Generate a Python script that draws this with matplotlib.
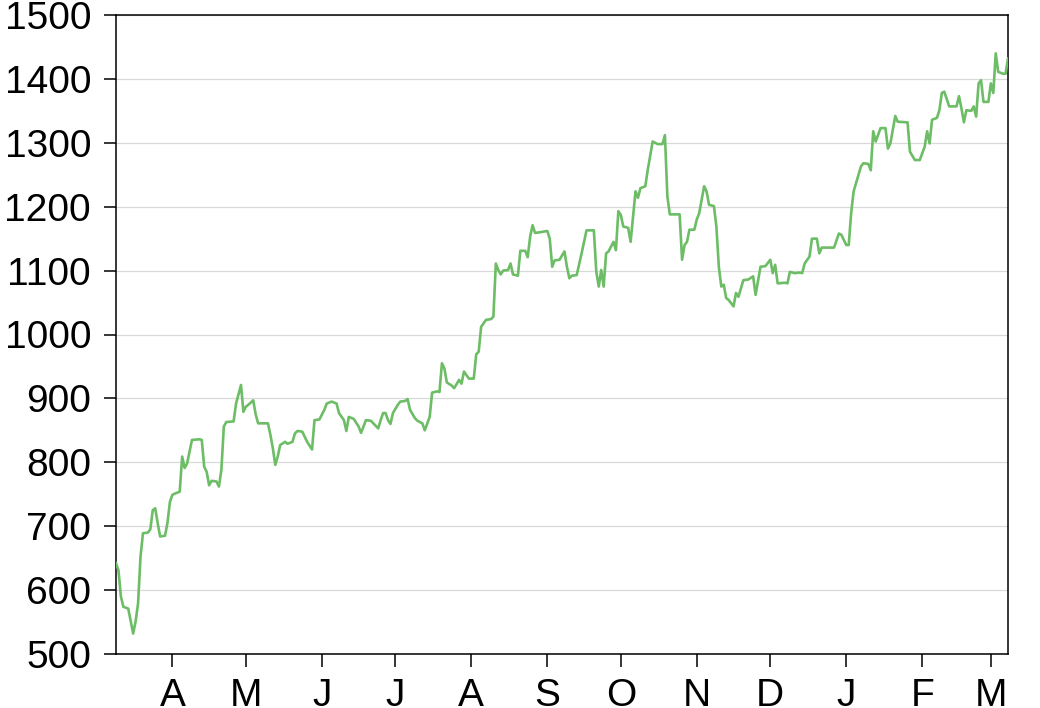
import matplotlib
matplotlib.use("Agg")
import matplotlib.pyplot as plt
import pandas as pd

dates = [
    "2020-03-09", "2020-03-10", "2020-03-11", "2020-03-12", "2020-03-14", "2020-03-16", "2020-03-17",
    "2020-03-18", "2020-03-19", "2020-03-20", "2020-03-22", "2020-03-23", "2020-03-24", "2020-03-25",
    "2020-03-26", "2020-03-27", "2020-03-29", "2020-03-30", "2020-03-31", "2020-04-01", "2020-04-02",
    "2020-04-04", "2020-04-05", "2020-04-06", "2020-04-07", "2020-04-09", "2020-04-12", "2020-04-13",
    "2020-04-14", "2020-04-15", "2020-04-16", "2020-04-17", "2020-04-19", "2020-04-20", "2020-04-21",
    "2020-04-22", "2020-04-23", "2020-04-26", "2020-04-27", "2020-04-29", "2020-04-30", "2020-05-01",
    "2020-05-02", "2020-05-04", "2020-05-05", "2020-05-06", "2020-05-10", "2020-05-11", "2020-05-12",
    "2020-05-13", "2020-05-14", "2020-05-15", "2020-05-17", "2020-05-18", "2020-05-20", "2020-05-21",
    "2020-05-22", "2020-05-24", "2020-05-26", "2020-05-28", "2020-05-29", "2020-05-31", "2020-06-02",
    "2020-06-03", "2020-06-05", "2020-06-07", "2020-06-08", "2020-06-10", "2020-06-11", "2020-06-12",
    "2020-06-14", "2020-06-16", "2020-06-17", "2020-06-19", "2020-06-21", "2020-06-22", "2020-06-24",
    "2020-06-25", "2020-06-26", "2020-06-27", "2020-06-28", "2020-06-29", "2020-06-30", "2020-07-02",
    "2020-07-03", "2020-07-05", "2020-07-06", "2020-07-07", "2020-07-09", "2020-07-10", "2020-07-12",
    "2020-07-13", "2020-07-15", "2020-07-16", "2020-07-18", "2020-07-19", "2020-07-20", "2020-07-21",
    "2020-07-22", "2020-07-24", "2020-07-25", "2020-07-27", "2020-07-28", "2020-07-29", "2020-07-31",
    "2020-08-02", "2020-08-03", "2020-08-04", "2020-08-05", "2020-08-07", "2020-08-09", "2020-08-10",
    "2020-08-11", "2020-08-12", "2020-08-13", "2020-08-14", "2020-08-16", "2020-08-17", "2020-08-18",
    "2020-08-20", "2020-08-21", "2020-08-23", "2020-08-24", "2020-08-25", "2020-08-26", "2020-08-27",
    "2020-08-29", "2020-09-01", "2020-09-02", "2020-09-03", "2020-09-04", "2020-09-06", "2020-09-08",
    "2020-09-09", "2020-09-10", "2020-09-11", "2020-09-13", "2020-09-15", "2020-09-17", "2020-09-20",
    "2020-09-21", "2020-09-22", "2020-09-23", "2020-09-24", "2020-09-25", "2020-09-26", "2020-09-28",
    "2020-09-29", "2020-09-30", "2020-10-01", "2020-10-02", "2020-10-04", "2020-10-05", "2020-10-07",
    "2020-10-08", "2020-10-09", "2020-10-11", "2020-10-12", "2020-10-14", "2020-10-16", "2020-10-18",
    "2020-10-19", "2020-10-20", "2020-10-21", "2020-10-25", "2020-10-26", "2020-10-27", "2020-10-28",
    "2020-10-29", "2020-10-31", "2020-11-01", "2020-11-02", "2020-11-04", "2020-11-05", "2020-11-06",
    "2020-11-08", "2020-11-09", "2020-11-10", "2020-11-11", "2020-11-12", "2020-11-13", "2020-11-14",
    "2020-11-16", "2020-11-17", "2020-11-18", "2020-11-20", "2020-11-22", "2020-11-24", "2020-11-25",
    "2020-11-27", "2020-11-29", "2020-12-01", "2020-12-02", "2020-12-03", "2020-12-04", "2020-12-07",
    "2020-12-08", "2020-12-09", "2020-12-11", "2020-12-13", "2020-12-14", "2020-12-15", "2020-12-17",
    "2020-12-18", "2020-12-20", "2020-12-21", "2020-12-22", "2020-12-27", "2020-12-29", "2020-12-30",
    "2021-01-01", "2021-01-02", "2021-01-03", "2021-01-04", "2021-01-05", "2021-01-07", "2021-01-08",
    "2021-01-10", "2021-01-11", "2021-01-12", "2021-01-13", "2021-01-15", "2021-01-17", "2021-01-18",
    "2021-01-19", "2021-01-21", "2021-01-22", "2021-01-26", "2021-01-27", "2021-01-29", "2021-01-31",
    "2021-02-02", "2021-02-03", "2021-02-04", "2021-02-05", "2021-02-07", "2021-02-08", "2021-02-09",
    "2021-02-10", "2021-02-12", "2021-02-15", "2021-02-16", "2021-02-17", "2021-02-18", "2021-02-19",
    "2021-02-21", "2021-02-22", "2021-02-23", "2021-02-24", "2021-02-25", "2021-02-26", "2021-02-28",
    "2021-03-01", "2021-03-02", "2021-03-03", "2021-03-04", "2021-03-06", "2021-03-07", "2021-03-08",
]

values = [
    642, 631, 590, 574, 571, 532, 551,
    579, 652, 689, 690, 695, 725, 728,
    705, 684, 685, 705, 738, 749, 751,
    754, 809, 791, 798, 835, 836, 835,
    793, 785, 764, 771, 770, 762, 788,
    856, 863, 864, 892, 921, 879, 887,
    890, 897, 875, 861, 861, 843, 822,
    796, 809, 827, 832, 829, 832, 845,
    849, 848, 832, 820, 866, 867, 882,
    892, 895, 892, 877, 866, 849, 871,
    868, 856, 846, 866, 865, 861, 853,
    866, 877, 877, 866, 860, 877, 890,
    895, 896, 899, 882, 869, 865, 861,
    850, 871, 909, 911, 910, 955, 947,
    925, 920, 916, 929, 923, 942, 931,
    931, 969, 973, 1012, 1023, 1024, 1028,
    1111, 1101, 1094, 1100, 1101, 1111, 1094,
    1092, 1131, 1131, 1121, 1153, 1171, 1159,
    1160, 1162, 1150, 1106, 1116, 1117, 1130,
    1106, 1088, 1092, 1093, 1127, 1163, 1163,
    1098, 1075, 1101, 1075, 1127, 1130, 1145,
    1132, 1193, 1187, 1169, 1167, 1145, 1224,
    1214, 1229, 1232, 1258, 1302, 1298, 1298,
    1312, 1216, 1188, 1188, 1117, 1140, 1145,
    1164, 1164, 1180, 1190, 1232, 1224, 1203,
    1201, 1169, 1106, 1075, 1078, 1057, 1054,
    1044, 1065, 1059, 1085, 1086, 1091, 1062,
    1106, 1107, 1117, 1096, 1109, 1080, 1081,
    1080, 1098, 1096, 1097, 1096, 1111, 1122,
    1150, 1150, 1127, 1136, 1136, 1158, 1156,
    1140, 1140, 1190, 1224, 1237, 1263, 1268,
    1267, 1257, 1318, 1302, 1323, 1323, 1291,
    1299, 1342, 1333, 1332, 1286, 1273, 1273,
    1294, 1318, 1299, 1336, 1339, 1351, 1378,
    1380, 1357, 1357, 1373, 1354, 1332, 1351,
    1350, 1357, 1341, 1393, 1398, 1364, 1364,
    1393, 1378, 1440, 1411, 1408, 1408, 1432,
]

month_ticks = ["2020-04-01", "2020-05-01", "2020-06-01", "2020-07-01", "2020-08-01", "2020-09-01",
               "2020-10-01", "2020-11-01", "2020-12-01", "2021-01-01", "2021-02-01", "2021-03-01"]
month_labels = ["A", "M", "J", "J", "A", "S", "O", "N", "D", "J", "F", "M"]
y_ticks = [500, 600, 700, 800, 900, 1000, 1100, 1200, 1300, 1400, 1500]

plt.rcParams['font.family'] = ['Liberation Sans', 'DejaVu Sans']

fig = plt.figure(figsize=(10.4, 7.08), dpi=100)
ax = fig.add_axes([116 / 1040, 1 - 654 / 708, (1008 - 116) / 1040, (654 - 15) / 708])

x = pd.to_datetime(dates)
ax.plot(x, values, color="#6cbd66", linewidth=1.9, solid_joinstyle="round", zorder=3)

ax.set_xlim(pd.Timestamp("2020-03-09"), pd.Timestamp("2021-03-08"))
ax.set_ylim(500, 1500)
ax.set_yticks(y_ticks)
ax.set_yticklabels([str(v) for v in y_ticks])
ax.set_xticks(pd.to_datetime(month_ticks))
ax.set_xticklabels(month_labels)

ax.grid(axis="y", color="#d9d9d9", linewidth=0.9, zorder=0)
ax.grid(axis="x", visible=False)
ax.set_axisbelow(True)

for s in ax.spines.values():
    s.set_linewidth(1.1)
    s.set_color("black")

ax.tick_params(axis="both", which="major", length=9, width=1.1, labelsize=28, color="black",
               labelcolor="black")
ax.tick_params(axis="y", pad=9)
ax.tick_params(axis="x", pad=8)

fig.savefig("out.png", dpi=100)
